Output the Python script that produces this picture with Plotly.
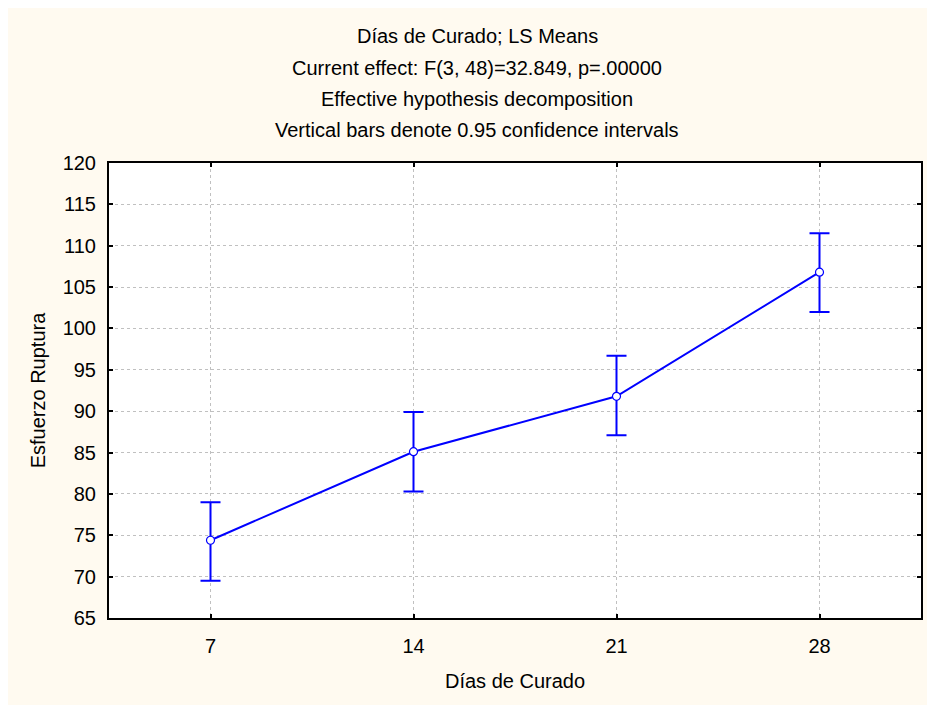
import plotly.graph_objects as go

dias = ["7", "14", "21", "28"]
medias = [74.4, 85.1, 91.8, 106.8]
ic_sup = [79.0, 89.9, 96.7, 111.5]
ic_inf = [69.5, 80.3, 87.1, 102.0]
y_ticks = [65, 70, 75, 80, 85, 90, 95, 100, 105, 110, 115, 120]

titulos = [
    "Días de Curado; LS Means",
    "Current effect: F(3, 48)=32.849, p=.00000",
    "Effective hypothesis decomposition",
    "Vertical bars denote 0.95 confidence intervals",
]

err_plus = [s - m for s, m in zip(ic_sup, medias)]
err_minus = [m - i for m, i in zip(medias, ic_inf)]

FONT = "Liberation Sans"
BLUE = "#0000FF"
FS = 20

fig = go.Figure()
fig.add_trace(go.Scatter(
    x=dias, y=medias,
    mode="lines+markers",
    line=dict(color=BLUE, width=2),
    marker=dict(symbol="circle", size=8, color="white",
                line=dict(color=BLUE, width=1.2)),
    error_y=dict(type="data", symmetric=False, array=err_plus,
                 arrayminus=err_minus, color=BLUE, thickness=2, width=10),
    showlegend=False,
))

W, H = 927, 697
ml, mr, mt, mb = 101, 12, 155, 87
ph = H - mt - mb

ann_y_fig = [28, 59.5, 90.5, 121.5]
annotations = []
for t, yf in zip(titulos, ann_y_fig):
    annotations.append(dict(
        text=t, xref="paper", yref="paper",
        x=(478 - 109) / 814, y=1 + (mt - yf) / ph,
        xanchor="center", yanchor="middle", showarrow=False,
        font=dict(family=FONT, size=FS, color="black"),
    ))

fig.update_layout(
    width=W, height=H,
    margin=dict(l=ml, r=mr, t=mt, b=mb, pad=0),
    paper_bgcolor="#FFFAF0",
    plot_bgcolor="white",
    font=dict(family=FONT, size=FS, color="black"),
    annotations=annotations,
)
fig.update_xaxes(
    type="category", range=[-0.5, 3.5],
    showgrid=True, gridcolor="#C0C0C0", griddash="3px,3px", gridwidth=1,
    showline=True, linecolor="black", linewidth=2, mirror="ticks",
    ticks="inside", ticklen=4, tickwidth=2, tickcolor="black",
    ticklabelstandoff=9,
    tickfont=dict(family=FONT, size=FS, color="black"),
    title=dict(text="Días de Curado", standoff=18,
               font=dict(family=FONT, size=FS, color="black")),
    zeroline=False,
)
fig.update_yaxes(
    range=[65, 120], tickvals=y_ticks,
    showgrid=True, gridcolor="#C0C0C0", griddash="3px,3px", gridwidth=1,
    showline=True, linecolor="black", linewidth=2, mirror="ticks",
    ticks="inside", ticklen=4, tickwidth=2, tickcolor="black",
    ticklabelstandoff=7,
    tickfont=dict(family=FONT, size=FS, color="black"),
    title=dict(text="Esfuerzo Ruptura", standoff=12,
               font=dict(family=FONT, size=FS, color="black")),
    zeroline=False,
)

fig.write_html("out.html")
